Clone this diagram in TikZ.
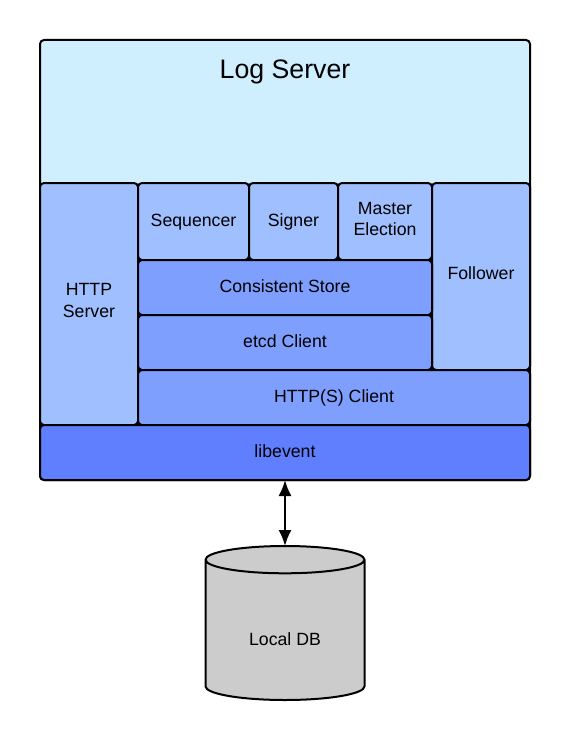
\documentclass[tikz,border=0pt]{standalone}
\usepackage{fontspec}
\setmainfont{Liberation Sans}
\usetikzlibrary{shapes.geometric, arrows.meta}
\definecolor{serverblue}{HTML}{CFEFFF}
\definecolor{lightblue}{HTML}{A0BFFF}
\definecolor{midblue}{HTML}{7F9FFF}
\definecolor{deepblue}{HTML}{5F7FFF}
\definecolor{dbgrey}{HTML}{CCCCCC}
\tikzset{
  block/.style={rectangle, draw=black, line width=2pt, rounded corners=4pt, inner sep=0pt, outer sep=0pt, align=center, font=\fontsize{17.7}{21.5}\selectfont, text height=12.7pt, text depth=3pt},
}
\begin{document}
\begin{tikzpicture}[x=1pt,y=-1pt]
\useasboundingbox (0,0) rectangle (571,741);
\node[block, fill=serverblue, minimum width=490pt, minimum height=440pt] (server) at (285,260) {};
\node[font=\fontsize{26.7}{30}\selectfont, inner sep=0pt] (title) at (285,72) {Log Server};
\node[block, fill=lightblue, minimum width=98pt, minimum height=242pt, text height=30.7pt, text depth=4.5pt] (httpserver) at (89,304) {HTTP\\Server};
\node[block, fill=lightblue, minimum width=111pt, minimum height=77pt] (sequencer) at (193.5,221.5) {Sequencer};
\node[block, fill=lightblue, minimum width=89pt, minimum height=77pt] (signer) at (293.5,221.5) {Signer};
\node[block, fill=lightblue, minimum width=94pt, minimum height=77pt, text height=30.7pt, text depth=2.3pt] (election) at (385,221.5) {Master\\Election};
\node[block, fill=lightblue, minimum width=98pt, minimum height=187pt, text depth=7pt] (follower) at (481,276.5) {Follower};
\node[block, fill=midblue, minimum width=294pt, minimum height=55pt] (store) at (285,287.5) {Consistent Store};
\node[block, fill=midblue, minimum width=294pt, minimum height=55pt] (etcd) at (285,342.5) {etcd Client};
\node[block, fill=midblue, minimum width=392pt, minimum height=55pt] (httpclient) at (334,397.5) {HTTP(S) Client};
\node[block, fill=deepblue, minimum width=490pt, minimum height=55pt] (libevent) at (285,452.5) {libevent};
\node[cylinder, shape border rotate=90, aspect=0.38, draw=black, line width=2pt, fill=dbgrey, inner sep=0pt, outer sep=0pt, minimum width=159pt, minimum height=154pt, font=\fontsize{17.7}{21.5}\selectfont, text height=33pt, text depth=3.3pt, anchor=shape center] (localdb) at (285,623) {Local DB};
\draw[line width=2pt, {Latex[length=16pt,width=13pt]}-{Latex[length=16pt,width=13pt]}] (libevent.south) -- (localdb.north);
\end{tikzpicture}
\end{document}
